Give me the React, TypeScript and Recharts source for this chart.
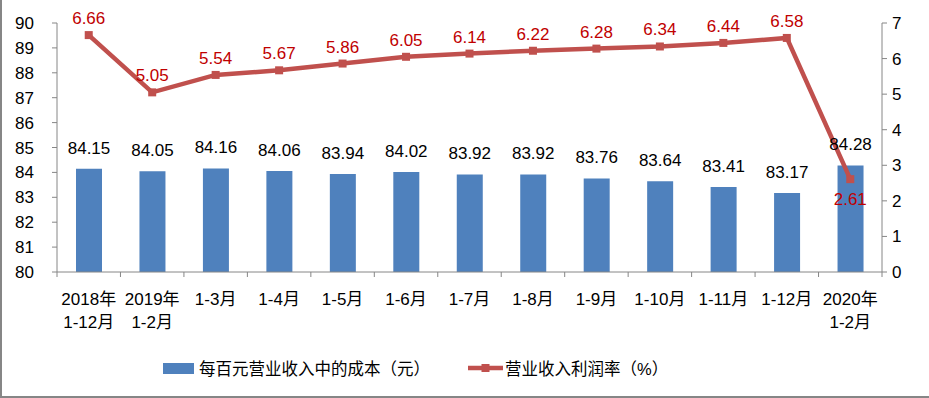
import React from 'react';
import { ComposedChart, Bar, Line, XAxis, YAxis, LabelList } from 'recharts';

const categories = ['2018年\n1-12月', '2019年\n1-2月', '1-3月', '1-4月', '1-5月', '1-6月', '1-7月', '1-8月', '1-9月', '1-10月', '1-11月', '1-12月', '2020年\n1-2月'];
const costValues = [84.15, 84.05, 84.16, 84.06, 83.94, 84.02, 83.92, 83.92, 83.76, 83.64, 83.41, 83.17, 84.28];
const profitValues = [6.66, 5.05, 5.54, 5.67, 5.86, 6.05, 6.14, 6.22, 6.28, 6.34, 6.44, 6.58, 2.61];
const leftTicks = [80, 81, 82, 83, 84, 85, 86, 87, 88, 89, 90];
const rightTicks = [0, 1, 2, 3, 4, 5, 6, 7];
const costName = '每百元营业收入中的成本（元）';
const profitName = '营业收入利润率（%）';

const data = categories.map((c, i) => ({ name: c, cost: costValues[i], profit: profitValues[i] }));

const FONT = '"Liberation Sans", "Noto Sans CJK SC", sans-serif';
const AXIS = '#868686';
const BLUE = '#4F81BD';
const RED = '#C0504D';
const LABEL_RED = '#C00000';

const XTick = (props: any) => {
  const { x, y, payload, index } = props;
  const half = payload.offset || 0;
  const lines = String(payload.value).split('\n');
  const last = index === categories.length - 1;
  return (
    <g>
      <line x1={x - half} y1={y - 8} x2={x - half} y2={y - 3} stroke={AXIS} strokeWidth={1} />
      {last && <line x1={x + half} y1={y - 8} x2={x + half} y2={y - 3} stroke={AXIS} strokeWidth={1} />}
      {lines.map((l, i) => (
        <text key={i} x={x} y={y + 25 + i * 23} textAnchor="middle" fontSize={17} fill="#000" fontFamily={FONT}>{l}</text>
      ))}
    </g>
  );
};

const BarLabel = (props: any) => {
  const { x, y, width, value } = props;
  return (
    <text x={x + width / 2} y={y - 15} textAnchor="middle" fontSize={17} fill="#000" fontFamily={FONT}>{value.toFixed(2)}</text>
  );
};

const LineLabel = (props: any) => {
  const { x, y, value, index } = props;
  const below = index === profitValues.length - 1;
  return (
    <text x={x} y={below ? y + 26 : y - 11} textAnchor="middle" fontSize={17} fill={LABEL_RED} fontFamily={FONT}>{value.toFixed(2)}</text>
  );
};

const SquareDot = (props: any) => {
  const { cx, cy, index } = props;
  return <rect key={index} x={cx - 4} y={cy - 4} width={8} height={8} fill={RED} />;
};

const LegendContent = () => (
  <div style={{ display: 'flex', alignItems: 'center', fontFamily: FONT, fontSize: 16.5, color: '#000', paddingLeft: 161 }}>
    <span style={{ display: 'inline-block', width: 31, height: 11, background: BLUE, marginRight: 5 }} />
    <span>{costName}</span>
    <span style={{ display: 'inline-block', width: 38 }} />
    <svg width={35} height={12} style={{ marginRight: 2 }}>
      <line x1={0} y1={6} x2={35} y2={6} stroke={RED} strokeWidth={4.5} />
      <rect x={13.5} y={2} width={8} height={8} fill={RED} />
    </svg>
    <span>{profitName}</span>
  </div>
);

export default function App() {
  return (
    <div style={{ position: 'absolute', left: 0, top: 0, width: 929, height: 398, boxSizing: 'border-box', borderLeft: `2px solid ${AXIS}`, borderBottom: `2px solid ${AXIS}`, background: '#fff' }}>
      <ComposedChart width={927} height={396} data={data} margin={{ top: 23, right: 0, bottom: 0, left: 0 }} barCategoryGap={0}>
        <XAxis dataKey="name" xAxisId={0} interval={0} tickLine={false} axisLine={{ stroke: AXIS }} tick={<XTick />} height={124} />
        <YAxis yAxisId="left" domain={[80, 90]} ticks={leftTicks} interval={0} width={55} tickSize={5} tickMargin={18}
          axisLine={{ stroke: AXIS }} tickLine={{ stroke: AXIS }} tick={{ fontSize: 17, fill: '#000', fontFamily: FONT }} allowDataOverflow />
        <YAxis yAxisId="right" orientation="right" domain={[0, 7]} ticks={rightTicks} interval={0} width={47} tickSize={5} tickMargin={5}
          axisLine={{ stroke: AXIS }} tickLine={{ stroke: AXIS }} tick={{ fontSize: 17, fill: '#000', fontFamily: FONT, textAnchor: 'start' }} />
        <Bar yAxisId="left" dataKey="cost" name={costName} fill={BLUE} barSize={26} isAnimationActive={false}>
          <LabelList dataKey="cost" content={<BarLabel />} />
        </Bar>
        <Line yAxisId="right" dataKey="profit" name={profitName} stroke={RED} strokeWidth={4.5} dot={<SquareDot />} activeDot={false} isAnimationActive={false}>
          <LabelList dataKey="profit" content={<LineLabel />} />
        </Line>
      </ComposedChart>
      <div style={{ position: 'absolute', left: 0, top: 356 }}>
        <LegendContent />
      </div>
    </div>
  );
}
